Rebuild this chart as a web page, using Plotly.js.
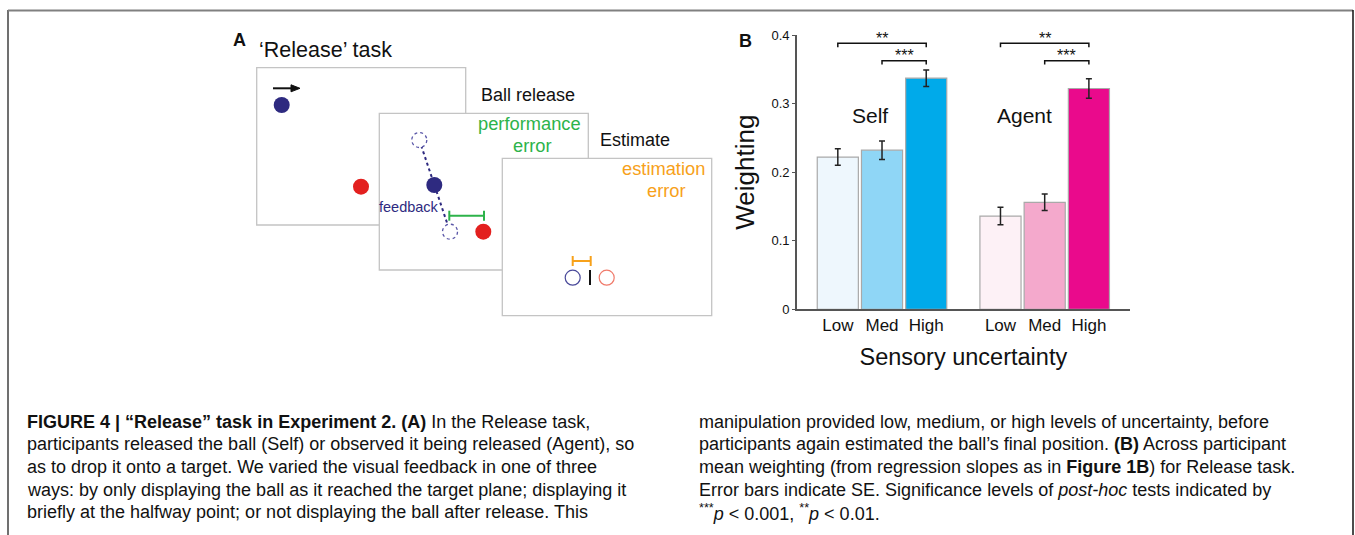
<!DOCTYPE html>
<html>
<head>
<meta charset="utf-8">
<script src="https://cdn.plot.ly/plotly-3.0.1.min.js"></script>
<style>html,body{margin:0;padding:0;background:#fff;}#chart{width:1355px;height:535px;}</style>
</head>
<body>
<div id="chart"></div>
<script>
// ---- data ----
const levels = ['Low', 'Med', 'High'];
const groups = ['Self', 'Agent'];
const selfMeans = [0.222, 0.232, 0.337];
const selfSE = [0.012, 0.0135, 0.012];
const agentMeans = [0.136, 0.156, 0.322];
const agentSE = [0.0127, 0.012, 0.0143];
const yTicks = [0, 0.1, 0.2, 0.3, 0.4];
const yTickText = ['0', '0.1', '0.2', '0.3', '0.4'];
const sigLabels = ['**', '***'];   // Low-High, Med-High
const captionLeft = [
  '<b>FIGURE 4 | “Release” task in Experiment 2. (A)</b> In the Release task,',
  'participants released the ball (Self) or observed it being released (Agent), so',
  'as to drop it onto a target. We varied the visual feedback in one of three',
  'ways: by only displaying the ball as it reached the target plane; displaying it',
  'briefly at the halfway point; or not displaying the ball after release. This'
];
const captionRight = [
  'manipulation provided low, medium, or high levels of uncertainty, before',
  'participants again estimated the ball’s final position. <b>(B)</b> Across participant',
  'mean weighting (from regression slopes as in <b>Figure 1B</b>) for Release task.',
  'Error bars indicate SE. Significance levels of <i>post-hoc</i> tests indicated by',
  '<sup>***</sup><i>p</i> &lt; 0.001, <sup>**</sup><i>p</i> &lt; 0.01.'
];

// ---- styling / layout helpers ----
const W = 1355, H = 535;
const X = p => p / W;
const Y = p => 1 - p / H;
const groupGap = 3.68;
const selfColors = ['#eef7fd', '#8fd6f6', '#00aaea'];
const agentColors = ['#fdf1f6', '#f4a9cc', '#ea0a8c'];
const FONT = "'Liberation Sans', Arial, Helvetica, sans-serif";
const CAPFONT = "'Liberation Sans', Arial, Helvetica, sans-serif";
const navy = '#2e2a80', red = '#e3201f', green = '#2db34a', orange = '#f7a11a';

const pos = g => levels.map((_, i) => i + g * groupGap);

const traces = [
  {type: 'bar', name: groups[0], x: pos(0), y: selfMeans, width: 0.93,
   marker: {color: selfColors, line: {color: '#a9a9a9', width: 1.2}},
   error_y: {type: 'data', array: selfSE, color: '#222', thickness: 1.5, width: 3},
   hoverinfo: 'y', showlegend: false},
  {type: 'bar', name: groups[1], x: pos(1), y: agentMeans, width: 0.93,
   marker: {color: agentColors, line: {color: '#a9a9a9', width: 1.2}},
   error_y: {type: 'data', array: agentSE, color: '#222', thickness: 1.5, width: 3},
   hoverinfo: 'y', showlegend: false}
];

const shapes = [];
const annotations = [];

// border frame
shapes.push({type: 'line', xref: 'paper', yref: 'paper', x0: X(8), x1: X(8), y0: Y(10), y1: Y(540), line: {color: '#707070', width: 2}});
shapes.push({type: 'line', xref: 'paper', yref: 'paper', x0: X(8), x1: X(1353), y0: Y(10.5), y1: Y(10.5), line: {color: '#808080', width: 2}});
shapes.push({type: 'line', xref: 'paper', yref: 'paper', x0: X(1353), x1: X(1353), y0: Y(10), y1: Y(540), line: {color: '#111', width: 1.5}});

// ---- panel A diagram ----
function rect(x0, y0, x1, y1) {
  shapes.push({type: 'rect', xref: 'paper', yref: 'paper', x0: X(x0), x1: X(x1), y0: Y(y0), y1: Y(y1),
    line: {color: '#c4c4c4', width: 1.3}, fillcolor: '#fff', layer: 'above'});
}
function dot(cx, cy, r, fill, outline, dash, lw) {
  shapes.push({type: 'circle', xref: 'paper', yref: 'paper', x0: X(cx - r), x1: X(cx + r), y0: Y(cy - r), y1: Y(cy + r),
    fillcolor: fill, line: {color: outline || fill, width: lw === undefined ? 0 : lw, dash: dash || 'solid'}, layer: 'above'});
}
function seg(x0, y0, x1, y1, color, w, dash) {
  shapes.push({type: 'line', xref: 'paper', yref: 'paper', x0: X(x0), x1: X(x1), y0: Y(y0), y1: Y(y1),
    line: {color: color, width: w, dash: dash || 'solid'}, layer: 'above'});
}
function bracketH(x0, x1, y, h, color, w) {
  seg(x0, y, x1, y, color, w);
  seg(x0, y - h, x0, y + h, color, w);
  seg(x1, y - h, x1, y + h, color, w);
}
function txt(t, x, y, size, color, xanchor, bold, font) {
  annotations.push({xref: 'paper', yref: 'paper', x: X(x), y: Y(y), text: bold ? '<b>' + t + '</b>' : t,
    showarrow: false, xanchor: xanchor || 'left', yanchor: 'middle',
    font: {family: font || FONT, size: size, color: color || '#111'}});
}

// box 1 : Ball release start
rect(256.7, 67.7, 465.7, 225);
dot(281.7, 105, 8, navy);
dot(361, 186.7, 8, red);
seg(273, 88.3, 293, 88.3, '#111', 2);
shapes.push({type: 'path', xref: 'paper', yref: 'paper',
  path: `M ${X(291)},${Y(84.8)} L ${X(300)},${Y(88.3)} L ${X(291)},${Y(91.8)} Z`,
  fillcolor: '#111', line: {color: '#111', width: 1}, layer: 'above'});

// box 2 : feedback
rect(379.3, 113.3, 588.3, 270);
seg(419.3, 140, 450, 231.7, navy, 2, 'dot');
dot(419.3, 140, 7.5, '#fff', '#5a57a8', 'dot', 1.3);
dot(434.3, 185, 8, navy);
dot(450, 231.7, 7.5, '#fff', '#5a57a8', 'dot', 1.3);
bracketH(449.3, 484, 215.7, 5, green, 2);
dot(483.3, 231.7, 8, red);

// box 3 : estimate
rect(502.3, 158.3, 711.7, 315.7);
bracketH(572.7, 590.7, 261, 5, orange, 2);
dot(572.7, 277.7, 7.5, '#fff', '#4a4a9a', 'solid', 1.2);
seg(590, 270, 590, 285, '#111', 2);
dot(606.7, 277.7, 7.5, '#fff', '#f07a6a', 'solid', 1.2);

txt('A', 231, 40, 18, '#111', 'left', true);
txt('‘Release’ task', 257, 50, 21.5);
txt('Ball release', 479, 94.5, 18);
txt('performance', 583, 123.5, 18.3, green, 'right');
txt('error', 532, 145.5, 18.3, green, 'center');
txt('Estimate', 598, 140, 18);
txt('estimation', 707, 168.5, 18.3, orange, 'right');
txt('error', 666, 190.5, 18.3, orange, 'center');
txt('feedback', 408.5, 207, 14.5, navy, 'center');

// ---- panel B extras ----
txt('B', 737, 41, 18, '#111', 'left', true);
annotations.push({xref: 'x', yref: 'y', x: pos(0)[1] - 0.27, y: 0.283, text: groups[0], showarrow: false,
  font: {family: FONT, size: 21, color: '#111'}});
annotations.push({xref: 'x', yref: 'y', x: pos(1)[1] - 0.45, y: 0.283, text: groups[1], showarrow: false,
  font: {family: FONT, size: 21, color: '#111'}});

// significance brackets
[0, 1].forEach(g => {
  const p = pos(g);
  const defs = [[p[0], p[2], 0.3878, sigLabels[0]], [p[1], p[2], 0.3624, sigLabels[1]]];
  defs.forEach(d => {
    shapes.push({type: 'path', xref: 'x', yref: 'y',
      path: `M ${d[0]},${d[2] - 0.0055} L ${d[0]},${d[2]} L ${d[1]},${d[2]} L ${d[1]},${d[2] - 0.0055}`,
      line: {color: '#111', width: 1.5}});
    annotations.push({xref: 'x', yref: 'y', x: (d[0] + d[1]) / 2, y: d[2] + 0.0073, yanchor: 'middle',
      text: d[3], showarrow: false, font: {family: FONT, size: 16, color: '#111'}});
  });
});

// caption
captionLeft.forEach((t, i) => txt(t, 25, 421.7 + 22.6 * i, 18, '#111', 'left', false, CAPFONT));
captionRight.forEach((t, i) => txt(t, 697, 421.7 + 22.6 * i, 18, '#111', 'left', false, CAPFONT));

const layout = {
  width: W, height: H,
  margin: {l: 0, r: 0, t: 0, b: 0},
  paper_bgcolor: '#fff', plot_bgcolor: 'rgba(0,0,0,0)',
  showlegend: false,
  font: {family: FONT, color: '#111'},
  xaxis: {domain: [X(796.7), X(1130)], range: [-0.93, 6.61], showline: true, linecolor: '#555', linewidth: 1.5,
    ticks: '', tickvals: pos(0).concat(pos(1)), ticktext: levels.concat(levels),
    tickfont: {family: FONT, size: 17, color: '#111'}, showgrid: false, zeroline: false, fixedrange: true,
    title: {text: 'Sensory uncertainty', font: {family: FONT, size: 23.5, color: '#111'}, standoff: 14}},
  yaxis: {domain: [Y(309.3), Y(35)], range: [0, 0.4], showline: true, linecolor: '#555', linewidth: 1.5,
    ticks: 'outside', ticklen: 3, tickcolor: '#555', tickvals: yTicks, ticktext: yTickText,
    tickfont: {family: FONT, size: 13, color: '#111'}, showgrid: false, zeroline: false, fixedrange: true,
    title: {text: 'Weighting', font: {family: FONT, size: 26, color: '#111'}, standoff: 9}},
  shapes: shapes,
  annotations: annotations
};

Plotly.newPlot('chart', traces, layout, {displayModeBar: false, staticPlot: true});
</script>
</body>
</html>
